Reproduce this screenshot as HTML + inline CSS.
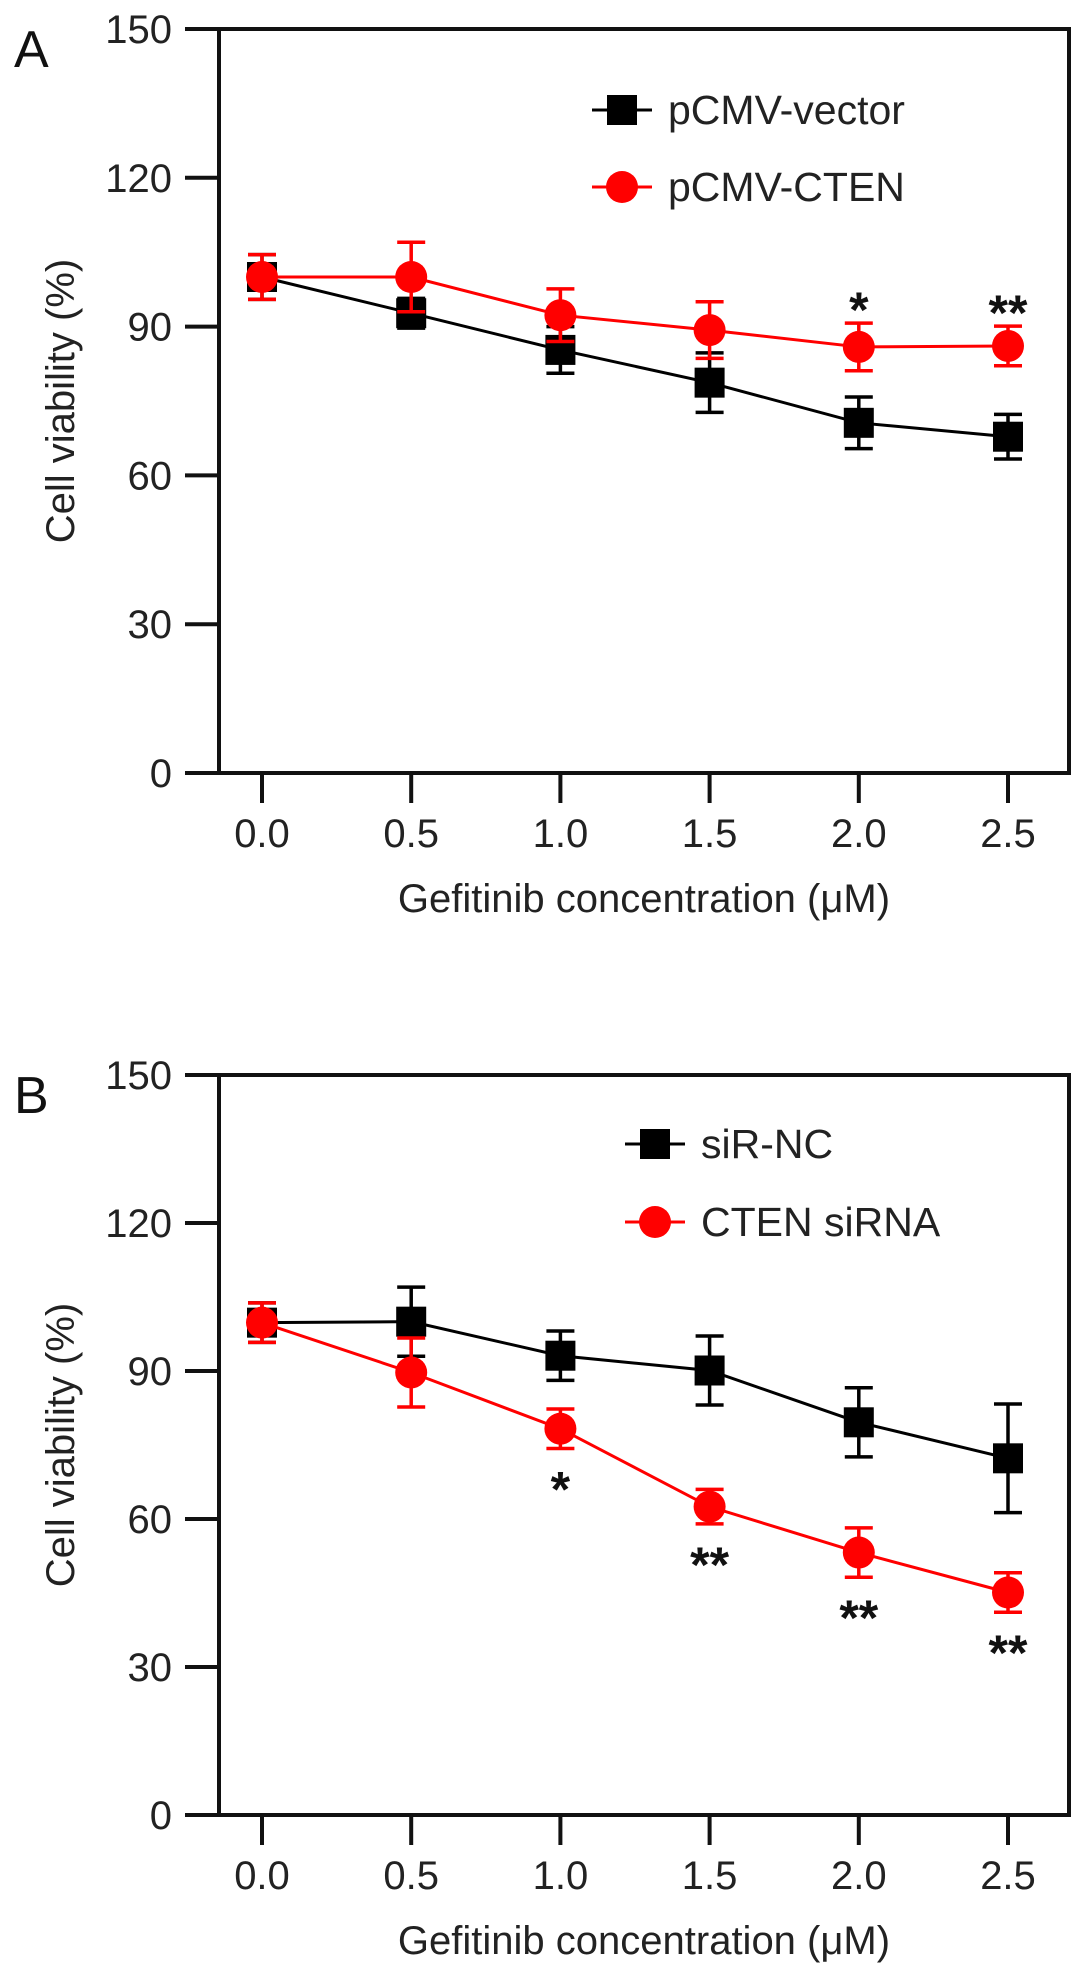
<!DOCTYPE html>
<html><head><meta charset="utf-8"><style>
html,body{margin:0;padding:0;background:#fff;}
svg{display:block;font-family:"Liberation Sans",Arial,sans-serif;}
</style></head><body>
<svg id="fig" width="1087" height="1977" viewBox="0 0 1087 1977" xmlns="http://www.w3.org/2000/svg"></svg>
<script>
const categories = [0.0, 0.5, 1.0, 1.5, 2.0, 2.5];
const xTickLabels = ["0.0","0.5","1.0","1.5","2.0","2.5"];
const yTicks = [0, 30, 60, 90, 120, 150];
const aVectorMean = [100, 92.7, 85.3, 78.7, 70.6, 67.8];
const aVectorErr = [4.5, 3, 4.7, 6, 5.2, 4.5];
const aCtenMean = [100, 100, 92.3, 89.3, 85.9, 86.1];
const aCtenErr = [4.5, 7, 5.3, 5.7, 4.8, 4];
const aSig = ["", "", "", "", "*", "**"];
const bNcMean = [99.8, 100, 93.1, 90.1, 79.6, 72.3];
const bNcErr = [4, 7, 5, 7, 7, 11];
const bSiMean = [99.8, 89.7, 78.3, 62.5, 53.2, 45.1];
const bSiErr = [4, 7, 4, 3.5, 5, 4];
const bSig = ["", "", "*", "**", "**", "**"];

const NS = "http://www.w3.org/2000/svg";
const svg = document.getElementById("fig");
function mk(tag, attrs, parent){const e=document.createElementNS(NS,tag);for(const k in attrs)e.setAttribute(k,attrs[k]);(parent||svg).appendChild(e);return e;}

function panel(cfg){
  const g = mk("g",{});
  
  
  const L=219, R=1069, T=cfg.top, B=cfg.bottom;
  const x0=262, xs=298.4;
  const X=v=>x0+v*xs;
  const Y=v=>B-(v/150)*(B-T);
  const fr=mk("rect",{x:L,y:T,width:R-L,height:B-T,fill:"none",stroke:"#111","stroke-width":4},g);
  
  
  const xa=mk("line",{x1:185,y1:B,x2:R,y2:B,stroke:"#111","stroke-width":4},g);
  
  
  const ya=mk("line",{x1:L,y1:T,x2:L,y2:B,stroke:"#111","stroke-width":4},g);
  
  
  yTicks.forEach(t=>{
    const tl=mk("line",{x1:185,y1:Y(t),x2:L,y2:Y(t),stroke:"#111","stroke-width":4},g);
    
    
    const tx=mk("text",{x:172,y:Y(t)+14,"text-anchor":"end","font-size":40,fill:"#222"},g);
    tx.textContent=String(t);
    
    
  });
  categories.forEach((c,i)=>{
    const tl=mk("line",{x1:X(c),y1:B,x2:X(c),y2:B+30,stroke:"#111","stroke-width":4},g);
    
    
    const tx=mk("text",{x:X(c),y:B+74,"text-anchor":"middle","font-size":40,fill:"#222"},g);
    tx.textContent=xTickLabels[i];
    
    
  });
  const xt=mk("text",{x:644,y:B+139,"text-anchor":"middle","font-size":40,fill:"#222"},g);
  xt.textContent="Gefitinib concentration (\u03bcM)";
  
  
  const cy=(T+B)/2;
  const yt=mk("text",{x:0,y:0,"text-anchor":"middle","font-size":40,fill:"#222",transform:`translate(74,${cy}) rotate(-90)`},g);
  yt.textContent="Cell viability (%)";
  
  
  const pl=mk("text",{x:14,y:T+38,"font-size":52,fill:"#111"},g);
  pl.textContent=cfg.letter;
  
  

  function series(mean, err, color, shape, sname){
    const sg=mk("g",{},g);
    
    
    const pts=categories.map((c,i)=>X(c)+","+Y(mean[i])).join(" ");
    const ln=mk("polyline",{points:pts,fill:"none",stroke:color,"stroke-width":3},sg);
    
    
    categories.forEach((c,i)=>{
      const x=X(c), yt=Y(mean[i]+err[i]), yb=Y(mean[i]-err[i]);
      const eb=mk("path",{d:`M${x},${yt}V${yb}M${x-14},${yt}H${x+14}M${x-14},${yb}H${x+14}`,stroke:color,"stroke-width":3.5,fill:"none"},sg);
      
      
    });
    categories.forEach((c,i)=>{
      const x=X(c), y=Y(mean[i]);
      let m;
      if(shape==="sq") m=mk("rect",{x:x-15,y:y-15,width:30,height:30,fill:color},sg);
      else m=mk("circle",{cx:x,cy:y,r:16,fill:color},sg);
      
      
    });
  }
  series(cfg.s1m,cfg.s1e,"#000","sq",cfg.s1name);
  series(cfg.s2m,cfg.s2e,"#ff0000","ci",cfg.s2name);
  cfg.sig.forEach((s,i)=>{
    if(!s) return;
    const m = cfg.sigAbove ? cfg.s2m[i]+cfg.s2e[i] : cfg.s2m[i]-cfg.s2e[i];
    const y = cfg.sigAbove ? Y(m)+4 : Y(m)+58;
    const tx=mk("text",{x:X(categories[i]),y:y,"text-anchor":"middle","font-size":50,"font-weight":"600",fill:"#111"},g);
    tx.textContent=s;
    
    
  });
  [[cfg.s1name,"#000","sq",cfg.legY[0]],[cfg.s2name,"#ff0000","ci",cfg.legY[1]]].forEach(([lab,col,sh,ly])=>{
    const lg=mk("g",{},g);
    
    
    const lx=cfg.legX;
    mk("line",{x1:lx-30,y1:ly,x2:lx+30,y2:ly,stroke:col,"stroke-width":3},lg);
    if(sh==="sq") mk("rect",{x:lx-15,y:ly-15,width:30,height:30,fill:col},lg);
    else mk("circle",{cx:lx,cy:ly,r:16,fill:col},lg);
    const t=mk("text",{x:lx+46,y:ly+14,"font-size":41,fill:"#222"},lg);
    t.textContent=lab;
  });
}

panel({name:"panel-a",letter:"A",top:29,bottom:773,s1m:aVectorMean,s1e:aVectorErr,s2m:aCtenMean,s2e:aCtenErr,
  s1name:"pCMV-vector",s2name:"pCMV-CTEN",sig:aSig,sigAbove:true,legX:622,legY:[110,187]});
panel({name:"panel-b",letter:"B",top:1075,bottom:1815,s1m:bNcMean,s1e:bNcErr,s2m:bSiMean,s2e:bSiErr,
  s1name:"siR-NC",s2name:"CTEN siRNA",sig:bSig,sigAbove:false,legX:655,legY:[1144,1222]});
</script>
</body></html>
